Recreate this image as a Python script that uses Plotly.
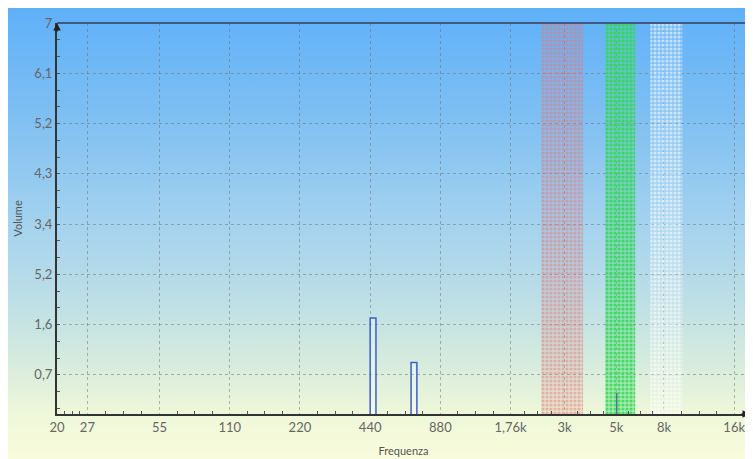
import base64
import math
import plotly.graph_objects as go

# ---- data ----
freq_ticks = [20, 27, 55, 110, 220, 440, 880, 1760, 3000, 5000, 8000, 16000]
freq_labels = ["20", "27", "55", "110", "220", "440", "880", "1,76k", "3k", "5k", "8k", "16k"]
vol_ticks = [0.7, 1.6, 2.5, 3.4, 4.3, 5.2, 6.1, 7]
vol_labels = ["0,7", "1,6", "5,2", "3,4", "4,3", "5,2", "6,1", "7"]

bar_left = [440, 659]
bar_right = [466, 698]
bar_value = [1.72, 0.92]

spike_freq = [5020]
spike_value = [0.38]

band_lo = [2380, 4480, 6990]
band_hi = [3600, 6020, 9580]
band_fg = ["rgb(225,120,120)", "rgb(45,215,80)", "rgb(255,255,255)"]
band_fg_opacity = [0.45, 0.8, 0.55]
band_bg = ["rgba(220,130,140,0.18)", "rgba(70,220,110,0.4)", "rgba(255,255,255,0.12)"]

f_min, f_max = 20, 18700
v_min, v_max = 0, 7

# ---- figure ----
W, H = 745, 451
ML, MR, MT, MB = 49, 3, 15, 45
fig = go.Figure()

svg = (
    '<svg xmlns="http://www.w3.org/2000/svg" width="100" height="451" preserveAspectRatio="none">'
    '<defs><linearGradient id="g" x1="0" y1="0" x2="0" y2="1">'
    '<stop offset="0" stop-color="#5fb0f9"/>'
    '<stop offset="0.25" stop-color="#80c0f2"/>'
    '<stop offset="0.49" stop-color="#a6d3ee"/>'
    '<stop offset="0.65" stop-color="#bddfe6"/>'
    '<stop offset="0.78" stop-color="#d5ebde"/>'
    '<stop offset="0.90" stop-color="#eff7da"/>'
    '<stop offset="1" stop-color="#f9fcdc"/>'
    '</linearGradient></defs>'
    '<rect width="100" height="451" fill="url(#g)"/></svg>'
)
svg_uri = "data:image/svg+xml;base64," + base64.b64encode(svg.encode()).decode()

pw, ph = W - ML - MR, H - MT - MB

for lo, hi, fg, fo, bg in zip(band_lo, band_hi, band_fg, band_fg_opacity, band_bg):
    fig.add_trace(go.Scatter(
        x=[lo, lo, hi, hi, lo], y=[v_min, v_max, v_max, v_min, v_min],
        mode="lines", line=dict(width=0), fill="toself",
        fillcolor=bg,
        fillpattern=dict(shape=".", fgcolor=fg, fgopacity=fo, size=4, solidity=0.5,
                         bgcolor=bg),
        hoverinfo="skip", showlegend=False))

for lo, hi, v in zip(bar_left, bar_right, bar_value):
    fig.add_trace(go.Scatter(
        x=[lo, lo, hi, hi], y=[0, v, v, 0],
        mode="lines", line=dict(color="#3f5fc4", width=1.5),
        fill="toself", fillcolor="rgba(255,255,255,0.25)",
        showlegend=False))

for f, v in zip(spike_freq, spike_value):
    fig.add_trace(go.Scatter(
        x=[f, f], y=[0, v], mode="lines",
        line=dict(color="#4a6890", width=1.3), showlegend=False))

# minor tick positions (styling): 3 between each pair of labelled frequencies
x_minor = []
for a, b in zip(freq_ticks[:-1], freq_ticks[1:]):
    for k in (1, 2, 3):
        x_minor.append(a * (b / a) ** (k / 4))
y_minor = [round(0.1 + 0.3 * i, 2) for i in range(23)]

font_family = "Lato, 'Open Sans', sans-serif"

fig.update_layout(
    width=W, height=H, autosize=False,
    margin=dict(l=ML, r=MR, t=MT, b=MB),
    paper_bgcolor="rgba(0,0,0,0)", plot_bgcolor="rgba(0,0,0,0)",
    font=dict(family=font_family, color="#555", size=13),
    images=[dict(source=svg_uri, xref="paper", yref="paper",
                 x=-ML / pw, y=1 + MT / ph,
                 sizex=W / pw, sizey=H / ph,
                 xanchor="left", yanchor="top", sizing="stretch", layer="below")],
    shapes=[dict(type="line", xref="paper", yref="paper", x0=0, x1=1 + MR / pw, y0=1, y1=1,
                 line=dict(color="#3d5b84", width=2))],
    annotations=[
        dict(x=0, y=1, xref="paper", yref="paper", text="", showarrow=True,
             ax=0, ay=10, arrowhead=2, arrowsize=1, arrowwidth=1.5, arrowcolor="#222"),
        dict(x=1, y=0, xref="paper", yref="paper", text="", showarrow=True,
             ax=-10, ay=0, arrowhead=2, arrowsize=1, arrowwidth=1.5, arrowcolor="#222"),
    ],
    xaxis=dict(
        type="log", range=[math.log10(f_min), math.log10(f_max)],
        tickmode="array", tickvals=freq_ticks, ticktext=freq_labels,
        showline=True, linecolor="#333", linewidth=2,
        ticks="", tickfont=dict(size=13, color="#666"),
        showgrid=True, gridcolor="rgba(110,110,110,0.5)", gridwidth=1, griddash="3px,3px",
        zeroline=False,
        minor=dict(tickmode="array", tickvals=x_minor, ticks="inside", ticklen=3,
                   tickcolor="#555", showgrid=False),
        title=dict(text="Frequenza", font=dict(size=11, color="#555"), standoff=14),
    ),
    yaxis=dict(
        range=[v_min, v_max],
        tickmode="array", tickvals=vol_ticks, ticktext=vol_labels,
        showline=True, linecolor="#333", linewidth=2,
        ticks="", tickfont=dict(size=13, color="#666"),
        showgrid=True, gridcolor="rgba(110,110,110,0.5)", gridwidth=1, griddash="3px,3px",
        zeroline=False,
        minor=dict(tickmode="array", tickvals=y_minor, ticks="inside", ticklen=3,
                   tickcolor="#555", showgrid=False),
        title=dict(text="Volume", font=dict(size=11, color="#555"), standoff=10),
    ),
)

fig.write_html("out.html")
